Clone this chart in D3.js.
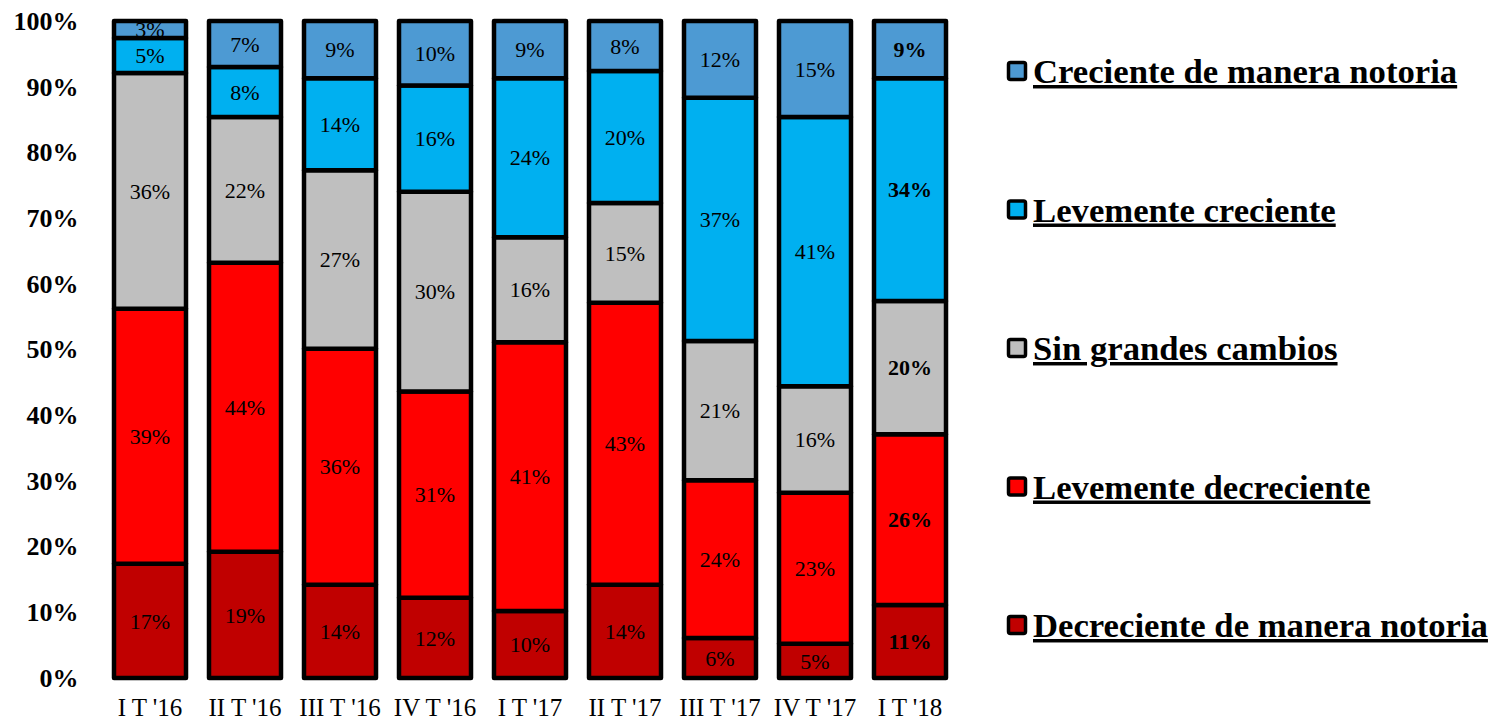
<!DOCTYPE html>
<html>
<head>
<meta charset="utf-8">
<script src="https://cdn.jsdelivr.net/npm/d3@7"></script>
<style>
  body { margin: 0; background: #fff; }
  svg { display: block; }
</style>
</head>
<body>
<div id="container"></div>
<script>
var w = 1494;
var h = 721;

// datos (porcentaje por trimestre)
var categories = ["I T '16", "II T '16", "III T '16", "IV T '16", "I T '17", "II T '17", "III T '17", "IV T '17", "I T '18"];
var decrecienteNotoria = [17.4, 19.2, 14.2, 12.2, 10.2, 14.2, 6.1, 5.2, 11.1];
var levementeDecreciente = [38.8, 44.0, 35.9, 31.4, 40.9, 42.9, 24.0, 23.0, 26.0];
var sinCambios = [35.9, 22.2, 27.2, 30.4, 16.0, 15.2, 21.2, 16.2, 20.3];
var levementeCreciente = [5.3, 7.6, 14.0, 16.2, 24.2, 20.1, 37.0, 41.0, 33.9];
var crecienteNotoria = [2.6, 7.0, 8.7, 9.8, 8.7, 7.6, 11.7, 14.6, 8.7];
var seriesNames = ["Decreciente de manera notoria", "Levemente decreciente", "Sin grandes cambios", "Levemente creciente", "Creciente de manera notoria"];
var yTicks = [0, 0.1, 0.2, 0.3, 0.4, 0.5, 0.6, 0.7, 0.8, 0.9, 1];

var seriesValues = [decrecienteNotoria, levementeDecreciente, sinCambios, levementeCreciente, crecienteNotoria];
var colors = ["#C00000", "#FF0000", "#BFBFBF", "#00B0F0", "#4D9AD3"];

var table = categories.map(function(c, i) {
  var row = {cat: c};
  seriesNames.forEach(function(s, j) { row[s] = seriesValues[j][i]; });
  return row;
});

var svg = d3.select("div#container").append("svg")
  .attr("width", w)
  .attr("height", h);

var x = d3.scaleBand()
  .domain(categories)
  .range([102.5, 957.5])
  .paddingInner(0.2)
  .paddingOuter(0.1);

var y = d3.scaleLinear()
  .domain([0, 1])
  .range([678, 21]);

var color = d3.scaleOrdinal().domain(seriesNames).range(colors);

var stacked = d3.stack()
  .keys(seriesNames)
  .offset(d3.stackOffsetExpand)(table);

var layers = svg.append("g").selectAll("g")
  .data(stacked)
  .enter().append("g")
  .attr("fill", function(d) { return color(d.key); });

layers.selectAll("rect")
  .data(function(d) { return d; })
  .enter().append("rect")
  .attr("x", function(d) { return x(d.data.cat) + 2; })
  .attr("width", x.bandwidth() - 4)
  .attr("y", function(d) { return y(d[1]); })
  .attr("height", function(d) { return y(d[0]) - y(d[1]); })
  .style("stroke", "black")
  .style("stroke-width", 4.5)
  .style("stroke-linejoin", "round");

// etiquetas de datos
stacked.forEach(function(layer) {
  svg.append("g").selectAll("text")
    .data(layer)
    .enter().append("text")
    .attr("x", function(d) { return x(d.data.cat) + x.bandwidth() / 2; })
    .attr("y", function(d) { return (y(d[0]) + y(d[1])) / 2; })
    .attr("dy", "0.35em")
    .attr("text-anchor", "middle")
    .style("font-family", "'Liberation Serif', 'Times New Roman', serif")
    .style("font-size", "22px")
    .style("font-weight", function(d, i) { return i === categories.length - 1 ? "bold" : "normal"; })
    .attr("fill", "#000")
    .text(function(d) { return Math.round(d.data[layer.key]) + "%"; });
});

// ejes
var yAxis = svg.append("g")
  .attr("transform", "translate(102.5,0)")
  .call(d3.axisLeft(y).tickValues(yTicks).tickFormat(d3.format(".0%")).tickSize(0).tickPadding(24));
yAxis.select(".domain").remove();
yAxis.selectAll("text")
  .style("font-family", "'Liberation Serif', 'Times New Roman', serif")
  .style("font-size", "26px")
  .style("font-weight", "bold")
  .attr("fill", "#000");

var xAxis = svg.append("g")
  .attr("transform", "translate(0,678)")
  .call(d3.axisBottom(x).tickSize(0).tickPadding(20));
xAxis.select(".domain").remove();
xAxis.selectAll("text")
  .style("font-family", "'Liberation Serif', 'Times New Roman', serif")
  .style("font-size", "25px")
  .attr("fill", "#000");

// leyenda
var legendOrder = seriesNames.slice().reverse();
var legend = svg.append("g").selectAll("g")
  .data(legendOrder)
  .enter().append("g")
  .attr("transform", function(d, i) { return "translate(1007," + (71 + i * 138.5) + ")"; });

legend.append("rect")
  .attr("x", 1.5)
  .attr("y", -8.5)
  .attr("width", 17)
  .attr("height", 17)
  .attr("rx", 2)
  .attr("fill", function(d) { return color(d); })
  .style("stroke", "black")
  .style("stroke-width", 3.5);

legend.append("text")
  .attr("x", 26)
  .attr("y", 12)
  .style("font-family", "'Liberation Serif', 'Times New Roman', serif")
  .style("font-size", "34.7px")
  .style("font-weight", "bold")
  .style("text-decoration", "underline")
  .attr("fill", "#000")
  .text(function(d) { return d; });
</script>
</body>
</html>
